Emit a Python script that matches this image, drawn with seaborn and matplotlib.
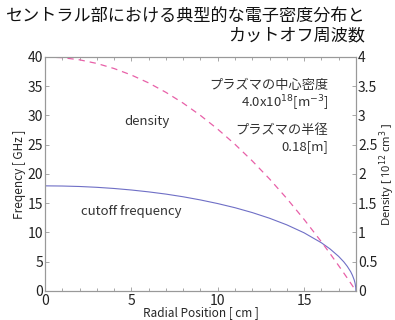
import seaborn as sns
import matplotlib.pyplot as plt
import pandas as pd
import numpy as np

# values
radius_cm = [0, 1, 2, 3, 4, 5, 6, 7, 8, 9, 10, 11, 12, 13, 14, 15, 16, 16.5, 17,
             17.3, 17.5, 17.7, 17.8, 17.9, 17.95, 17.99, 18]
density_1e12 = [4.0, 3.988, 3.951, 3.889, 3.802, 3.691, 3.556, 3.395, 3.210, 3.0,
                2.765, 2.506, 2.222, 1.914, 1.580, 1.222, 0.840, 0.639, 0.432,
                0.305, 0.219, 0.132, 0.088, 0.044, 0.022, 0.004, 0.0]
cutoff_ghz = [17.96, 17.93, 17.85, 17.71, 17.51, 17.25, 16.93, 16.55, 16.09, 15.55,
              14.93, 14.22, 13.39, 12.42, 11.29, 9.93, 8.23, 7.18, 5.90,
              4.96, 4.20, 3.27, 2.66, 1.89, 1.34, 0.60, 0.0]

df = pd.DataFrame({"r": radius_cm, "n": density_1e12, "f": cutoff_ghz})

sns.set_style("ticks")
plt.rcParams['font.family'] = ['Noto Sans CJK JP', 'DejaVu Sans']
plt.rcParams['axes.edgecolor'] = '#999999'

DPI = 100
fig = plt.figure(figsize=(395 / DPI, 320 / DPI), dpi=DPI)
ax = fig.add_axes([0.114, 0.091, 0.787, 0.731])
ax2 = ax.twinx()

sns.lineplot(data=df, x="r", y="f", ax=ax, color="#6f6fc6", linewidth=0.8)
sns.lineplot(data=df, x="r", y="n", ax=ax2, color="#e860a8", linewidth=0.9,
             linestyle=(0, (5, 4)))

ax.set_xlim(0, 18)
ax.set_ylim(0, 40)
ax2.set_ylim(0, 4)
ax.set_xticks([0, 5, 10, 15])
ax.set_xticks(range(0, 19), minor=True)
ax.set_yticks(range(0, 41, 5))
ax2.set_yticks([0, 0.5, 1, 1.5, 2, 2.5, 3, 3.5, 4])
ax2.set_yticklabels(["0", "0.5", "1", "1.5", "2", "2.5", "3", "3.5", "4"])

for a in (ax, ax2):
    a.tick_params(direction="in", length=3, width=0.6, color="#999999",
                  labelsize=10, pad=1.5, top=True, labelcolor="#222222")
    a.tick_params(which="minor", direction="in", length=2.5, width=0.6,
                  color="#999999", top=True)
    for s in a.spines.values():
        s.set_color("#999999")
        s.set_linewidth(0.8)
ax.tick_params(axis="x", pad=2)

ax.set_xlabel("Radial Position [ cm ]", fontsize=8.5, labelpad=-1)
ax.set_ylabel("Freqency [ GHz ]", fontsize=8.5, labelpad=1)
ax2.set_ylabel("Density [ 10$^{12}$ cm$^{3}$ ]", fontsize=8, family=["Noto Sans"])
ax2.yaxis.set_label_coords(1.068, 0.5)

tc = "#333333"
ax.text(5.9, 29.0, "density", fontsize=9.5, ha="center", va="center", color=tc)
ax.text(5.0, 13.5, "cutoff frequency", fontsize=9.5, ha="center", va="center", color=tc)
ax.text(16.4, 35.2, "プラズマの中心密度", fontsize=9.5, ha="right", va="center", color=tc)
ax.text(16.4, 32.1, "4.0x10$^{18}$[m$^{-3}$]", fontsize=9.5, ha="right", va="center", color=tc)
ax.text(16.4, 27.5, "プラズマの半径", fontsize=9.5, ha="right", va="center", color=tc)
ax.text(16.4, 24.6, "0.18[m]", fontsize=9.5, ha="right", va="center", color=tc)

fig.text(0.925, 0.975, "セントラル部における典型的な電子密度分布と\nカットオフ周波数",
         fontsize=12.3, ha="right", va="top", linespacing=1.05, color="#111111")

plt.savefig("out.png", dpi=DPI)
plt.close()
